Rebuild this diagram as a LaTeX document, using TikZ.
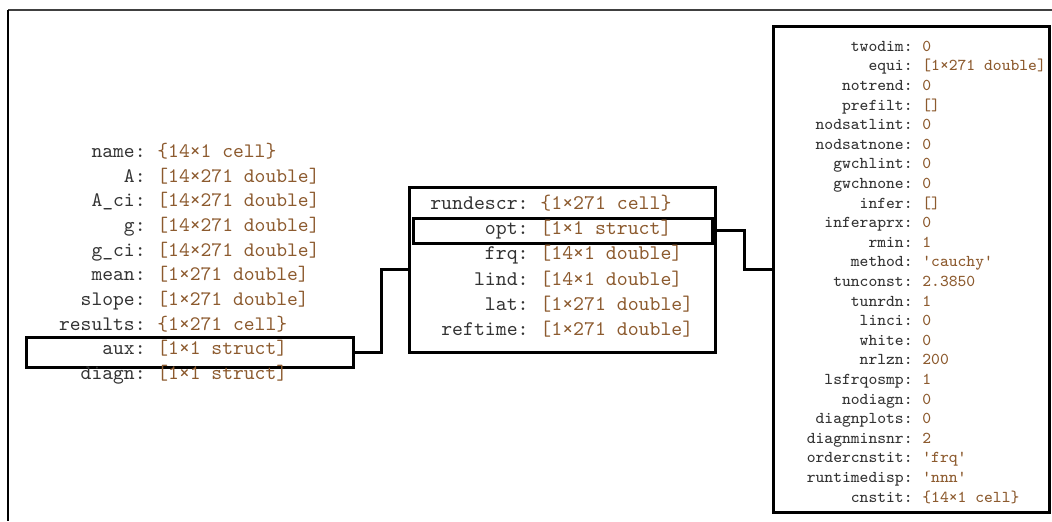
\documentclass[tikz,border=0pt]{standalone}
\usepackage{fontspec}
\pgfdeclarelayer{edgelayer}
\pgfdeclarelayer{nodelayer}
\pgfsetlayers{edgelayer,nodelayer,main}
\definecolor{keygray}{HTML}{333333}
\definecolor{valbrown}{HTML}{8C5A2E}
\newcommand\lpanelfont{\ttfamily\fontsize{10.3}{12}\selectfont}
\newcommand\mpanelfont{\ttfamily\fontsize{10.4}{12}\selectfont}
\newcommand\rpanelfont{\ttfamily\fontsize{8.3}{10}\selectfont}
\tikzstyle{frame}=[draw=black,line width=1.5pt,inner sep=0pt]
\tikzstyle{key}=[anchor=mid east,inner sep=0pt,text=keygray]
\tikzstyle{val}=[anchor=mid west,inner sep=0pt,text=valbrown]
\tikzstyle{wire}=[draw=black,line width=1.5pt]

\begin{document}
\begin{tikzpicture}[x=0.5pt,y=-0.5pt]
					\useasboundingbox (0,0) rectangle (1052,521);
					\draw [line width=1pt,draw=black!75] (8,10) -- (1052,10);
					\draw [line width=1.4pt] (8,10) -- (8,521);
					\begin{pgfonlayer}{nodelayer}
						\node [style=frame,minimum width=163.5pt,minimum height=15pt] (0) at (189.5,352) {};
						\node [style=frame,minimum width=153pt,minimum height=82.5pt] (1) at (562,269.5) {};
						\node [style=frame,minimum width=149.5pt,minimum height=12.5pt] (2) at (562.5,230.5) {};
						\node [style=frame,minimum width=138pt,minimum height=243pt] (3) at (911,269) {};
						% top level struct
						\foreach \k/\v [count=\i from 0] in {name/{\{14×1 cell\}},A/{[14×271 double]},A\_ci/{[14×271 double]},g/{[14×271 double]},g\_ci/{[14×271 double]},mean/{[1×271 double]},slope/{[1×271 double]},results/{\{1×271 cell\}},aux/{[1×1 struct]},diagn/{[1×1 struct]}}{
							\node [style=key,font=\lpanelfont] (lk\i) at (146,{153+24.7*\i}) {\k:};
							\node [style=val,font=\lpanelfont] (lv\i) at (157,{153+24.7*\i}) {\v};
						}
						% aux
						\foreach \k/\v [count=\i from 0] in {rundescr/{\{1×271 cell\}},opt/{[1×1 struct]},frq/{[14×1 double]},lind/{[14×1 double]},lat/{[1×271 double]},reftime/{[1×271 double]}}{
							\node [style=key,font=\mpanelfont] (mk\i) at (529,{205+25.3*\i}) {\k:};
							\node [style=val,font=\mpanelfont] (mv\i) at (540,{205+25.3*\i}) {\v};
						}
						% opt
						\foreach \k/\v [count=\i from 0] in {twodim/0,equi/{[1×271 double]},notrend/0,prefilt/{[]},nodsatlint/0,nodsatnone/0,gwchlint/0,gwchnone/0,infer/{[]},inferaprx/0,rmin/1,method/{'cauchy'},tunconst/2.3850,tunrdn/1,linci/0,white/0,nrlzn/200,lsfrqosmp/1,nodiagn/0,diagnplots/0,diagnminsnr/2,ordercnstit/{'frq'},runtimedisp/{'nnn'},cnstit/{\{14×1 cell\}}}{
							\node [style=key,font=\rpanelfont] (rk\i) at (913,{47+19.6*\i}) {\k:};
							\node [style=val,font=\rpanelfont] (rv\i) at (922,{47+19.6*\i}) {\v};
						}
					\end{pgfonlayer}
					\begin{pgfonlayer}{edgelayer}
						\draw [style=wire] (0.east) -- ++(27,0) |- (1.west);
						\draw [style=wire] (2.east) -- ++(31,0) |- (3.west);
					\end{pgfonlayer}
				\end{tikzpicture}
\end{document}
